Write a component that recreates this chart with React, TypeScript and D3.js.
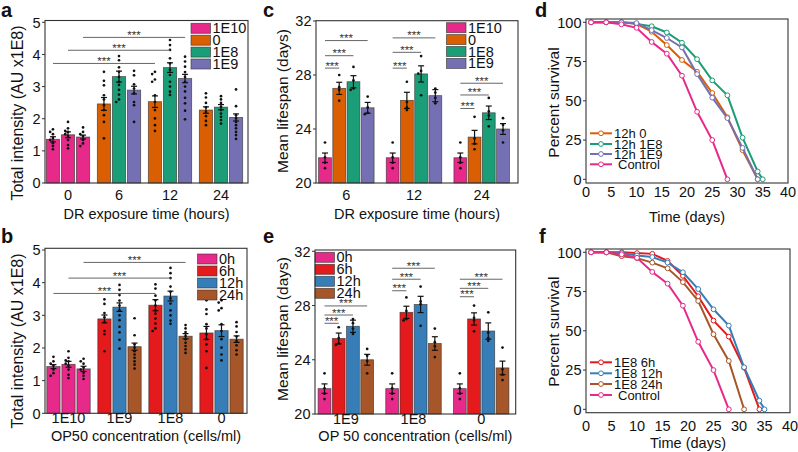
import React from 'react'
import * as d3 from 'd3'

const FONT = '"Liberation Sans", Arial, sans-serif'
const PINK = '#e7298a', ORANGE = '#d95f02', GREEN = '#1b9e77', PURPLE = '#7570b3'
const RED = '#e41a1c', BLUE = '#377eb8', BROWN = '#a65628'

// ---- panels a / b : total intensity (AU x1E8) ----
const drTimes = ['0', '6', '12', '24']
const concLabels = ['1E10', '0', '1E8', '1E9']
const concGroups = ['1E10', '1E9', '1E8', '0']
const hourLabels = ['0h', '6h', '12h', '24h']

const ctrlInt = [1.36, 1.5, 1.43]
const ctrlIntSem = [0.08, 0.09, 0.06]
const ctrlIntDots = [
  [1.67, 1.59, 1.52, 1.4, 1.34, 1.24, 1.15, 1.05],
  [1.9, 1.7, 1.62, 1.59, 1.52, 1.46, 1.34, 1.18, 1.08],
  [1.73, 1.59, 1.52, 1.46, 1.34, 1.23, 1.15],
]
// values at 6h, 12h, 24h
const int0 = [2.46, 2.53, 2.27]
const int0Sem = [0.2, 0.18, 0.1]
const int0Dots = [
  [3.46, 3.18, 3.04, 2.73, 2.6, 2.42, 2.27, 2.11, 1.9, 1.39],
  [3.46, 3.39, 3.22, 3.15, 2.73, 2.52, 2.27, 2.01, 1.8, 1.62],
  [2.79, 2.66, 2.49, 2.35, 2.21, 2.08, 1.93, 1.8],
]
const int1E8 = [3.31, 3.59, 2.36]
const int1E8Sem = [0.17, 0.15, 0.08]
const int1E8Dots = [
  [3.95, 3.82, 3.6, 3.46, 3.3, 3.15, 3.05, 2.9, 2.75, 2.6, 2.52],
  [4.45, 4.29, 4.14, 3.88, 3.72, 3.52, 3.36, 3.15, 3.0, 2.84, 2.74],
  [2.7, 2.6, 2.49, 2.37, 2.27, 2.16, 2.06, 1.96, 1.85],
]
const int1E9 = [2.89, 3.25, 2.04]
const int1E9Sem = [0.12, 0.13, 0.11]
const int1E9Dots = [
  [3.49, 3.35, 3.07, 2.94, 2.79, 2.52, 2.42, 1.9],
  [3.93, 3.78, 3.62, 3.45, 3.3, 3.15, 3.0, 2.85, 2.65, 2.48, 2.25, 1.98],
  [2.91, 2.39, 2.11, 2.01, 1.9, 1.8, 1.7, 1.59, 1.49, 1.37],
]
const intTicks = [0, 1, 2, 3, 4, 5]

// ---- panels c / e : mean lifespan (days) ----
const lifeTimes = ['6', '12', '24']
const lifeConcGroups = ['1E9', '1E8', '0']
const ctrlLife = [21.87, 21.87, 21.87]
const ctrlLifeSem = [0.35, 0.35, 0.35]
const ctrlLifeDots = [23.0, 21.9, 21.5, 21.1]
const life0 = [27.01, 26.12, 23.4]
const life0Sem = [0.45, 0.6, 0.5]
const life0Dots = [[28.0, 27.1, 26.9, 26.1], [27.5, 26.0, 25.6, 25.4], [24.9, 23.3, 22.9, 22.5]]
const life1E8 = [27.5, 28.08, 25.2]
const life1E8Sem = [0.45, 0.6, 0.5]
const life1E8Dots = [[28.6, 27.6, 27.0, 26.9], [29.4, 28.3, 28.1, 26.5], [26.3, 25.3, 25.0, 24.2]]
const life1E9 = [25.57, 26.47, 24.0]
const life1E9Sem = [0.4, 0.45, 0.4]
const life1E9Dots = [[26.4, 25.6, 25.2, 25.1], [27.0, 26.7, 26.3, 25.9], [24.8, 24.3, 23.9, 23.0]]
const lifeTicks = [20, 24, 28, 32]

// significance brackets: [group, fromBar, toGroup, toBar, y]
const sigA = [[0, 0, 2, 0, 3.72], [0, 1, 2, 1, 4.13], [0, 2, 2, 2, 4.53]]
const sigB = [[0, 0, 2, 0, 3.67], [0, 1, 2, 1, 4.14], [0, 2, 2, 2, 4.62]]
const sigC = [
  [0, 0, 0, 1, 28.51], [0, 0, 0, 2, 29.43], [0, 0, 0, 3, 30.55],
  [1, 0, 1, 1, 28.51], [1, 0, 1, 2, 29.68], [1, 0, 1, 3, 30.75],
  [2, 0, 2, 1, 25.52], [2, 0, 2, 2, 26.52], [2, 0, 2, 3, 27.39],
]
const sigE = [
  [0, 0, 0, 1, 26.69], [0, 0, 0, 2, 27.3], [0, 0, 0, 3, 27.97],
  [1, 0, 1, 1, 29.09], [1, 0, 1, 2, 29.94], [1, 0, 1, 3, 30.75],
  [2, 0, 2, 1, 28.65], [2, 0, 2, 2, 29.27], [2, 0, 2, 3, 29.94],
]

// ---- panels d / f : survival ----
const days = [1, 4, 7, 10, 13, 16, 19, 22, 25, 28, 31, 34, 35]
const survControl = [100, 100, 98.7, 96.5, 87.5, 80, 66, 43, 25, 0]
const surv12h0 = [100, 100, 100, 99, 94, 85.5, 76, 68.5, 55, 39.5, 18.5, 0]
const surv12h1E8 = [100, 100, 100, 99, 97.5, 93.5, 87, 76.5, 63, 53.5, 26.5, 5, 0]
const surv12h1E9 = [100, 100, 100, 99.5, 95, 90, 84, 67, 52, 39, 20, 0]
const surv1E8_6h = [100, 100, 100, 99.5, 99, 94.5, 85, 72, 56.5, 46.3, 26.5, 0]
const surv1E8_12h = [100, 100, 99.5, 98, 97, 93.4, 87.3, 76.6, 63.7, 53.3, 26.8, 5.5, 0]
const surv1E8_24h = [100, 100, 97.5, 96.3, 93.4, 89.8, 81, 69, 47.8, 30.8, 0]
const survTicks = [0, 25, 50, 75, 100]
const dayTicks = [0, 5, 10, 15, 20, 25, 30, 35, 40]

type Bar = { v: number; sem: number; dots: number[]; color: string }
type Group = { label: string; bars: Bar[] }

function swarm(ys: number[]) {
  const placed: [number, number][] = []
  const offs = [0, -2.8, 2.8, -5.6, 5.6]
  return ys.map(py => {
    let o = 0
    for (const c of offs) {
      if (placed.every(([px, qy]) => Math.hypot(px - c, qy - py) >= 2.7)) { o = c; break }
    }
    placed.push([o, py])
    return o
  })
}

function BarPanel(p: any) {
  const { groups, frame, yDomain, yRange, ticks, legend, sigs } = p
  const x = d3.scaleBand<string>().domain(groups.map((g: Group) => g.label)).range(p.range)
    .paddingInner(p.padIn).paddingOuter(p.padOut)
  const nb = groups[0].bars.length
  const xs = d3.scaleBand<number>().domain(d3.range(nb)).range([0, x.bandwidth()]).paddingInner(p.subPad)
  const y = d3.scaleLinear().domain(yDomain).range(yRange)
  const cx = (gi: number, bi: number) => x(groups[gi].label)! + xs(bi)! + xs.bandwidth() / 2
  const bw = xs.bandwidth()
  return (
    <g fontFamily={FONT}>
      {groups.map((g: Group, gi: number) => g.bars.map((b, bi) => {
        const c = cx(gi, bi)
        const ys = b.dots.map(d => y(d))
        const off = swarm(ys)
        return (
          <g key={gi + '-' + bi}>
            <rect x={c - bw / 2} y={y(b.v)} width={bw} height={y(yDomain[0]) - y(b.v)} fill={b.color}
              stroke="#333" strokeOpacity={0.75} strokeWidth={0.8} />
            <line x1={c} x2={c} y1={y(b.v - b.sem)} y2={y(b.v + b.sem)} stroke="#111" strokeWidth={1.2} />
            <line x1={c - 3} x2={c + 3} y1={y(b.v - b.sem)} y2={y(b.v - b.sem)} stroke="#111" strokeWidth={1.2} />
            <line x1={c - 3} x2={c + 3} y1={y(b.v + b.sem)} y2={y(b.v + b.sem)} stroke="#111" strokeWidth={1.2} />
            {ys.map((py, i) => <circle key={i} cx={c + off[i]} cy={py} r={1.35} fill="#111" />)}
          </g>
        )
      }))}
      {sigs.map((s: number[], i: number) => {
        const x1 = cx(s[0], s[1]), x2 = cx(s[2], s[3]), yy = y(s[4])
        return (
          <g key={'s' + i}>
            <line x1={x1} x2={x2} y1={yy} y2={yy} stroke="#666" strokeWidth={1} />
            <text x={(x1 + x2) / 2} y={yy + 1.5} textAnchor="middle" fontSize={11.5} fill="#333">***</text>
          </g>
        )
      })}
      {legend.items.map((it: [string, string], i: number) => (
        <g key={'l' + i}>
          <rect x={legend.x} y={legend.y + i * legend.step} width={19.5} height={10} fill={it[1]}
            stroke="#333" strokeOpacity={0.75} strokeWidth={0.8} />
          <text x={legend.x + 21.5} y={legend.y + i * legend.step + 10} fontSize={14.5} fill="#111">{it[0]}</text>
        </g>
      ))}
      <rect x={frame.x0} y={frame.y0} width={frame.x1 - frame.x0} height={frame.y1 - frame.y0}
        fill="none" stroke="#333" strokeWidth={1.1} />
      {ticks.map((t: number) => (
        <g key={'t' + t}>
          <line x1={frame.x0 - 3} x2={frame.x0} y1={y(t)} y2={y(t)} stroke="#333" strokeWidth={1} />
          <text x={frame.x0 - 4.5} y={y(t)} dy="0.36em" textAnchor="end" fontSize={14.5} fill="#111">{t}</text>
        </g>
      ))}
      {groups.map((g: Group, gi: number) => (
        <text key={'x' + gi} x={x(g.label)! + x.bandwidth() / 2} y={p.tickBase} textAnchor="middle"
          fontSize={14.5} fill="#111">{g.label}</text>
      ))}
      <text x={(frame.x0 + frame.x1) / 2} y={p.titleBase} textAnchor="middle" fontSize={14.5} fill="#111">{p.xTitle}</text>
      <text transform={`translate(${p.yTitleX},${p.yTitleY}) rotate(-90)`} textAnchor="middle"
        fontSize={p.yTitleSize} fill="#111">{p.yTitle}</text>
    </g>
  )
}

function LinePanel(p: any) {
  const { frame, series, yRange, xRange } = p
  const x = d3.scaleLinear().domain([0, 40]).range(xRange)
  const y = d3.scaleLinear().domain([0, 100]).range(yRange)
  const line = d3.line<[number, number]>().x(d => x(d[0])).y(d => y(d[1]))
  return (
    <g fontFamily={FONT}>
      {series.map((s: any, i: number) => {
        const pts: [number, number][] = s.values.map((v: number, k: number) => [days[k], v])
        return (
          <g key={i}>
            <path d={line(pts)!} fill="none" stroke={s.color} strokeWidth={2} />
            {pts.map((d, k) => <circle key={k} cx={x(d[0])} cy={y(d[1])} r={2.4} fill="#fff" stroke={s.color} strokeWidth={1} />)}
          </g>
        )
      })}
      {series.map((s: any, i: number) => {
        const ly = p.legendY[i]
        return (
          <g key={'l' + i}>
            <line x1={frame.x0 + 4} x2={frame.x0 + 26} y1={ly} y2={ly} stroke={s.color} strokeWidth={2} />
            <circle cx={frame.x0 + 15} cy={ly} r={2.4} fill="#fff" stroke={s.color} strokeWidth={1} />
            <text x={frame.x0 + (s.label === 'Control' ? 32 : 28)} y={ly + 4.6} fontSize={13} fill="#111">{s.label}</text>
          </g>
        )
      })}
      <rect x={frame.x0} y={frame.y0} width={frame.x1 - frame.x0} height={frame.y1 - frame.y0}
        fill="none" stroke="#333" strokeWidth={1.1} />
      {survTicks.map(t => (
        <g key={'t' + t}>
          <line x1={frame.x0 - 3} x2={frame.x0} y1={y(t)} y2={y(t)} stroke="#333" strokeWidth={1} />
          <text x={frame.x0 - 4.5} y={y(t)} dy="0.36em" textAnchor="end" fontSize={14.5} fill="#111">{t}</text>
        </g>
      ))}
      {dayTicks.map(t => (
        <text key={'x' + t} x={x(t)} y={p.tickBase} textAnchor="middle" fontSize={14.5} fill="#111">{t}</text>
      ))}
      <text x={(frame.x0 + frame.x1) / 2} y={p.titleBase} textAnchor="middle" fontSize={14.5} fill="#111">Time (days)</text>
      <text transform={`translate(${p.yTitleX},${p.yTitleY}) rotate(-90)`} textAnchor="middle"
        fontSize={15.5} fill="#111">Percent survival</text>
    </g>
  )
}

const mk = (v: number[], sem: number[], dots: number[][], color: string | string[]) =>
  v.map((vv, i) => ({ v: vv, sem: sem[i], dots: dots[i], color: Array.isArray(color) ? color[i] : color }))

export default function App() {
  const drCols = [ORANGE, GREEN, PURPLE]
  const groupsA: Group[] = [
    { label: drTimes[0], bars: mk(ctrlInt, ctrlIntSem, ctrlIntDots, PINK) },
    ...[0, 1, 2].map(t => ({
      label: drTimes[t + 1],
      bars: mk([int0[t], int1E8[t], int1E9[t]], [int0Sem[t], int1E8Sem[t], int1E9Sem[t]],
        [int0Dots[t], int1E8Dots[t], int1E9Dots[t]], drCols),
    })),
  ]
  const hCols = [RED, BLUE, BROWN]
  const groupsB: Group[] = [
    { label: concGroups[0], bars: mk(ctrlInt.slice().reverse(), ctrlIntSem.slice().reverse(), ctrlIntDots.slice().reverse(), PINK) },
    { label: concGroups[1], bars: mk(int1E9, int1E9Sem, int1E9Dots, hCols) },
    { label: concGroups[2], bars: mk(int1E8, int1E8Sem, int1E8Dots, hCols) },
    { label: concGroups[3], bars: mk(int0, int0Sem, int0Dots, hCols) },
  ]
  const groupsC: Group[] = lifeTimes.map((lab, t) => ({
    label: lab,
    bars: mk([ctrlLife[t], life0[t], life1E8[t], life1E9[t]], [ctrlLifeSem[t], life0Sem[t], life1E8Sem[t], life1E9Sem[t]],
      [ctrlLifeDots, life0Dots[t], life1E8Dots[t], life1E9Dots[t]], [PINK, ORANGE, GREEN, PURPLE]),
  }))
  const lifeByConc = [[life1E9, life1E9Sem, life1E9Dots], [life1E8, life1E8Sem, life1E8Dots], [life0, life0Sem, life0Dots]] as any[]
  const groupsE: Group[] = lifeConcGroups.map((lab, g) => ({
    label: lab,
    bars: mk([ctrlLife[g], ...lifeByConc[g][0]], [ctrlLifeSem[g], ...lifeByConc[g][1]],
      [ctrlLifeDots, ...lifeByConc[g][2]], [PINK, RED, BLUE, BROWN]),
  }))
  const legA = { x: 191, y: 23.3, step: 11.9, items: concLabels.map((l, i) => [l, [PINK, ORANGE, GREEN, PURPLE][i]]) }
  const legB = { x: 197.5, y: 254, step: 12, items: hourLabels.map((l, i) => [l, [PINK, RED, BLUE, BROWN][i]]) }
  const legC = { x: 446.5, y: 22.7, step: 11.9, items: concLabels.map((l, i) => [l, [PINK, ORANGE, GREEN, PURPLE][i]]) }
  const legE = { x: 315, y: 252.3, step: 12, items: hourLabels.map((l, i) => [l, [PINK, RED, BLUE, BROWN][i]]) }

  const seriesD = [
    { label: '12h 0', color: ORANGE, values: surv12h0 },
    { label: '12h 1E8', color: GREEN, values: surv12h1E8 },
    { label: '12h 1E9', color: PURPLE, values: surv12h1E9 },
    { label: 'Control', color: PINK, values: survControl },
  ]
  const seriesF = [
    { label: '1E8 6h', color: RED, values: surv1E8_6h },
    { label: '1E8 12h', color: BLUE, values: surv1E8_12h },
    { label: '1E8 24h', color: BROWN, values: surv1E8_24h },
    { label: 'Control', color: PINK, values: survControl },
  ]
  const letter = (t: string, x: number, y: number) => (
    <text x={x} y={y} fontFamily={FONT} fontWeight="bold" fontSize={20} fill="#111">{t}</text>
  )
  return (
    <svg width={798} height={452} style={{ position: 'absolute', left: 0, top: 0, background: '#fff' }}>
      <rect width={798} height={452} fill="#fff" />
      <BarPanel groups={groupsA} frame={{ x0: 45, x1: 248, y0: 20.5, y1: 183 }} yDomain={[0, 5]} yRange={[183, 22.3]}
        ticks={intTicks} range={[42.5, 246.5]} padIn={0.15} padOut={0.075} subPad={0.12} legend={legA} sigs={sigA}
        xTitle="DR exposure time (hours)" yTitle="Total intensity (AU x1E8)" yTitleX={22.5} yTitleY={113}
        tickBase={200} titleBase={218.5} yTitleSize={16} />
      <BarPanel groups={groupsB} frame={{ x0: 45, x1: 247, y0: 248.3, y1: 413.3 }} yDomain={[0, 5]} yRange={[413.3, 250]}
        ticks={intTicks} range={[43, 247]} padIn={0.15} padOut={0.075} subPad={0.12} legend={legB} sigs={sigB}
        xTitle="OP50 concentration (cells/ml)" yTitle="Total intensity (AU x1E8)" yTitleX={22.5} yTitleY={341}
        tickBase={423} titleBase={441} yTitleSize={16} />
      <BarPanel groups={groupsC} frame={{ x0: 316, x1: 518, y0: 20.7, y1: 183 }} yDomain={[20, 32]} yRange={[183, 21]}
        ticks={lifeTicks} range={[312.5, 515.5]} padIn={0.18} padOut={0.09} subPad={0.1} legend={legC} sigs={sigC}
        xTitle="DR exposure time (hours)" yTitle="Mean lifespan (days)" yTitleX={287.5} yTitleY={101}
        tickBase={200} titleBase={218.5} yTitleSize={15.5} />
      <BarPanel groups={groupsE} frame={{ x0: 315, x1: 515.7, y0: 250, y1: 414 }} yDomain={[20, 32]} yRange={[414, 251.3]}
        ticks={lifeTicks} range={[312, 515]} padIn={0.18} padOut={0.09} subPad={0.1} legend={legE} sigs={sigE}
        xTitle="OP 50 concentration (cells/ml)" yTitle="Mean lifespan (days)" yTitleX={287.5} yTitleY={329}
        tickBase={423.5} titleBase={441} yTitleSize={15.5} />
      <LinePanel series={seriesD} frame={{ x0: 586, x1: 788, y0: 19, y1: 183 }} xRange={[586, 788]} yRange={[179.3, 22.3]}
        legendY={[133.3, 144, 154, 164.3]} tickBase={197} titleBase={221.5} yTitleX={558.5} yTitleY={102.5} />
      <LinePanel series={seriesF} frame={{ x0: 586, x1: 790, y0: 249, y1: 412.7 }} xRange={[586, 790]} yRange={[409.3, 252.3]}
        legendY={[362.3, 373.3, 384, 395]} tickBase={431} titleBase={448} yTitleX={558.5} yTitleY={331.7} />
      {letter('a', 1, 17)}
      {letter('b', 1, 243)}
      {letter('c', 263, 17)}
      {letter('e', 263, 243)}
      {letter('d', 535, 17)}
      {letter('f', 539, 243)}
    </svg>
  )
}
